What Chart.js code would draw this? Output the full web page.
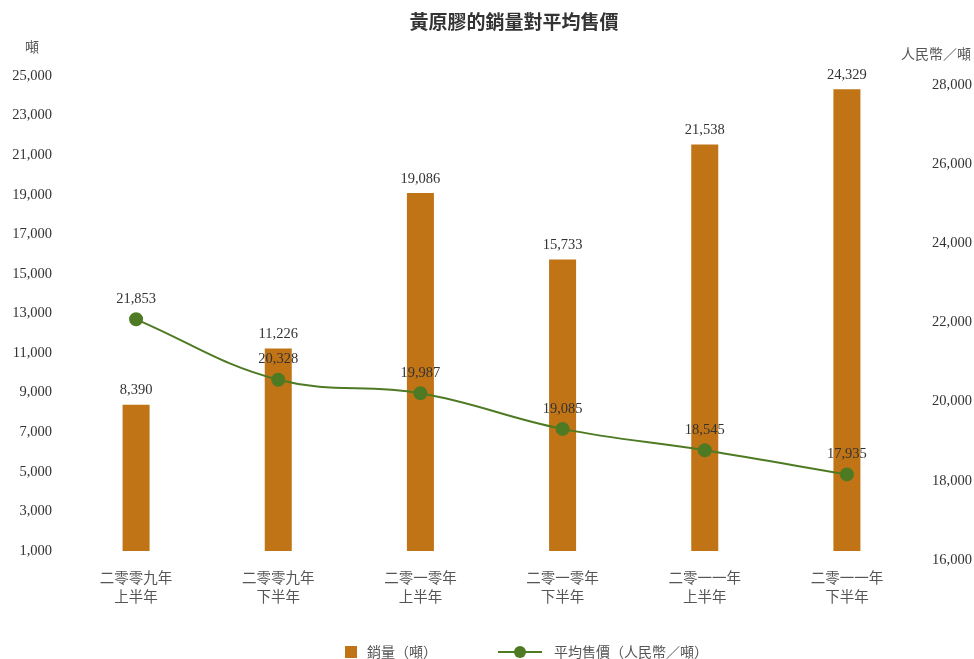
<!DOCTYPE html>
<html>
<head>
<meta charset="utf-8">
<script src="https://cdn.jsdelivr.net/npm/chart.js@4"></script>
<style>
  body { margin: 0; background: #fff; }
  #wrap { width: 974px; height: 659px; }
</style>
</head>
<body>
<div id="wrap"><canvas id="salesChart" width="974" height="659"></canvas></div>
<script>
const periods = [
    ['二零零九年', '上半年'],
    ['二零零九年', '下半年'],
    ['二零一零年', '上半年'],
    ['二零一零年', '下半年'],
    ['二零一一年', '上半年'],
    ['二零一一年', '下半年']
];
const salesTons = [8390, 11226, 19086, 15733, 21538, 24329];
const avgPrice = [21853, 20328, 19987, 19085, 18545, 17935];
const salesAxis = { min: 1000, max: 25000, step: 2000 };
const priceAxis = { min: 16000, max: 28000, step: 2000 };

const SERIF = '"Liberation Serif", "DejaVu Serif", serif';
const CJK = '"Noto Sans CJK TC", "Noto Sans CJK SC", sans-serif';
const ORANGE = '#c07416';
const GREEN = '#4e7a23';

function fmt(v) {
    return v.toLocaleString('en-US');
}

// labels, titles and the legend are painted by hand
const extras = {
    id: 'extras',
    afterDatasetsDraw(chart) {
        const ctx = chart.ctx;
        ctx.save();
        ctx.fillStyle = '#333';
        ctx.font = '14.5px ' + SERIF;
        ctx.textAlign = 'center';
        ctx.textBaseline = 'bottom';
        chart.getDatasetMeta(1).data.forEach((bar, i) => {
            ctx.fillText(fmt(salesTons[i]), bar.x, bar.y - 7);
        });
        ctx.textBaseline = 'middle';
        chart.getDatasetMeta(0).data.forEach((pt, i) => {
            ctx.fillText(fmt(avgPrice[i]), pt.x, pt.y - 20);
        });
        ctx.restore();
    },
    afterDraw(chart) {
        const ctx = chart.ctx;
        ctx.save();
        ctx.textBaseline = 'middle';
        ctx.fillStyle = '#333';
        ctx.font = 'bold 19px ' + CJK;
        ctx.textAlign = 'center';
        ctx.fillText('黃原膠的銷量對平均售價', 514, 22);

        ctx.fillStyle = '#555';
        ctx.font = '14px ' + CJK;
        ctx.fillText('噸', 32, 47);
        ctx.textAlign = 'right';
        ctx.fillText('人民幣／噸', 971, 54);

        // legend
        ctx.textAlign = 'left';
        ctx.fillStyle = ORANGE;
        ctx.fillRect(345, 646, 12, 12);
        ctx.fillStyle = '#555';
        ctx.fillText('銷量（噸）', 367, 652);
        ctx.strokeStyle = GREEN;
        ctx.lineWidth = 2;
        ctx.beginPath();
        ctx.moveTo(498, 652);
        ctx.lineTo(542, 652);
        ctx.stroke();
        ctx.fillStyle = GREEN;
        ctx.beginPath();
        ctx.arc(520, 652, 6, 0, Math.PI * 2);
        ctx.fill();
        ctx.fillStyle = '#555';
        ctx.fillText('平均售價（人民幣／噸）', 554, 652);
        ctx.restore();
    }
};

new Chart(document.getElementById('salesChart'), {
    data: {
        labels: periods,
        datasets: [{
            type: 'line',
            label: '平均售價（人民幣／噸）',
            data: avgPrice,
            yAxisID: 'y1',
            borderColor: GREEN,
            backgroundColor: GREEN,
            borderWidth: 2,
            pointRadius: 6,
            pointHoverRadius: 6,
            tension: 0.4,
            order: 0
        }, {
            type: 'bar',
            label: '銷量（噸）',
            data: salesTons,
            yAxisID: 'y',
            backgroundColor: ORANGE,
            barPercentage: 0.19,
            categoryPercentage: 1,
            order: 1
        }]
    },
    options: {
        responsive: false,
        animation: false,
        layout: { padding: { top: 76, left: 0, right: 0, bottom: 0 } },
        plugins: {
            legend: { display: false },
            tooltip: { enabled: false }
        },
        scales: {
            x: {
                grid: { display: false, drawTicks: false },
                border: { display: false },
                ticks: {
                    color: '#555',
                    font: { family: CJK, size: 14.5, lineHeight: 1.3 },
                    padding: 17,
                    maxRotation: 0
                },
                afterFit(scale) { scale.height = 108; }
            },
            y: {
                position: 'left',
                min: salesAxis.min,
                max: salesAxis.max,
                grid: { display: false, drawTicks: false },
                border: { display: false },
                ticks: {
                    stepSize: salesAxis.step,
                    color: '#333',
                    font: { family: SERIF, size: 14.5 },
                    padding: 13,
                    callback: v => fmt(v)
                },
                afterFit(scale) { scale.width = 65; }
            },
            y1: {
                position: 'right',
                min: priceAxis.min,
                max: priceAxis.max,
                grid: { display: false, drawTicks: false },
                border: { display: false },
                ticks: {
                    stepSize: priceAxis.step,
                    color: '#333',
                    font: { family: SERIF, size: 14.5 },
                    padding: 14,
                    crossAlign: 'near',
                    labelOffset: 9,
                    callback: v => fmt(v)
                },
                afterFit(scale) { scale.width = 56; }
            }
        }
    },
    plugins: [extras]
});
</script>
</body>
</html>
